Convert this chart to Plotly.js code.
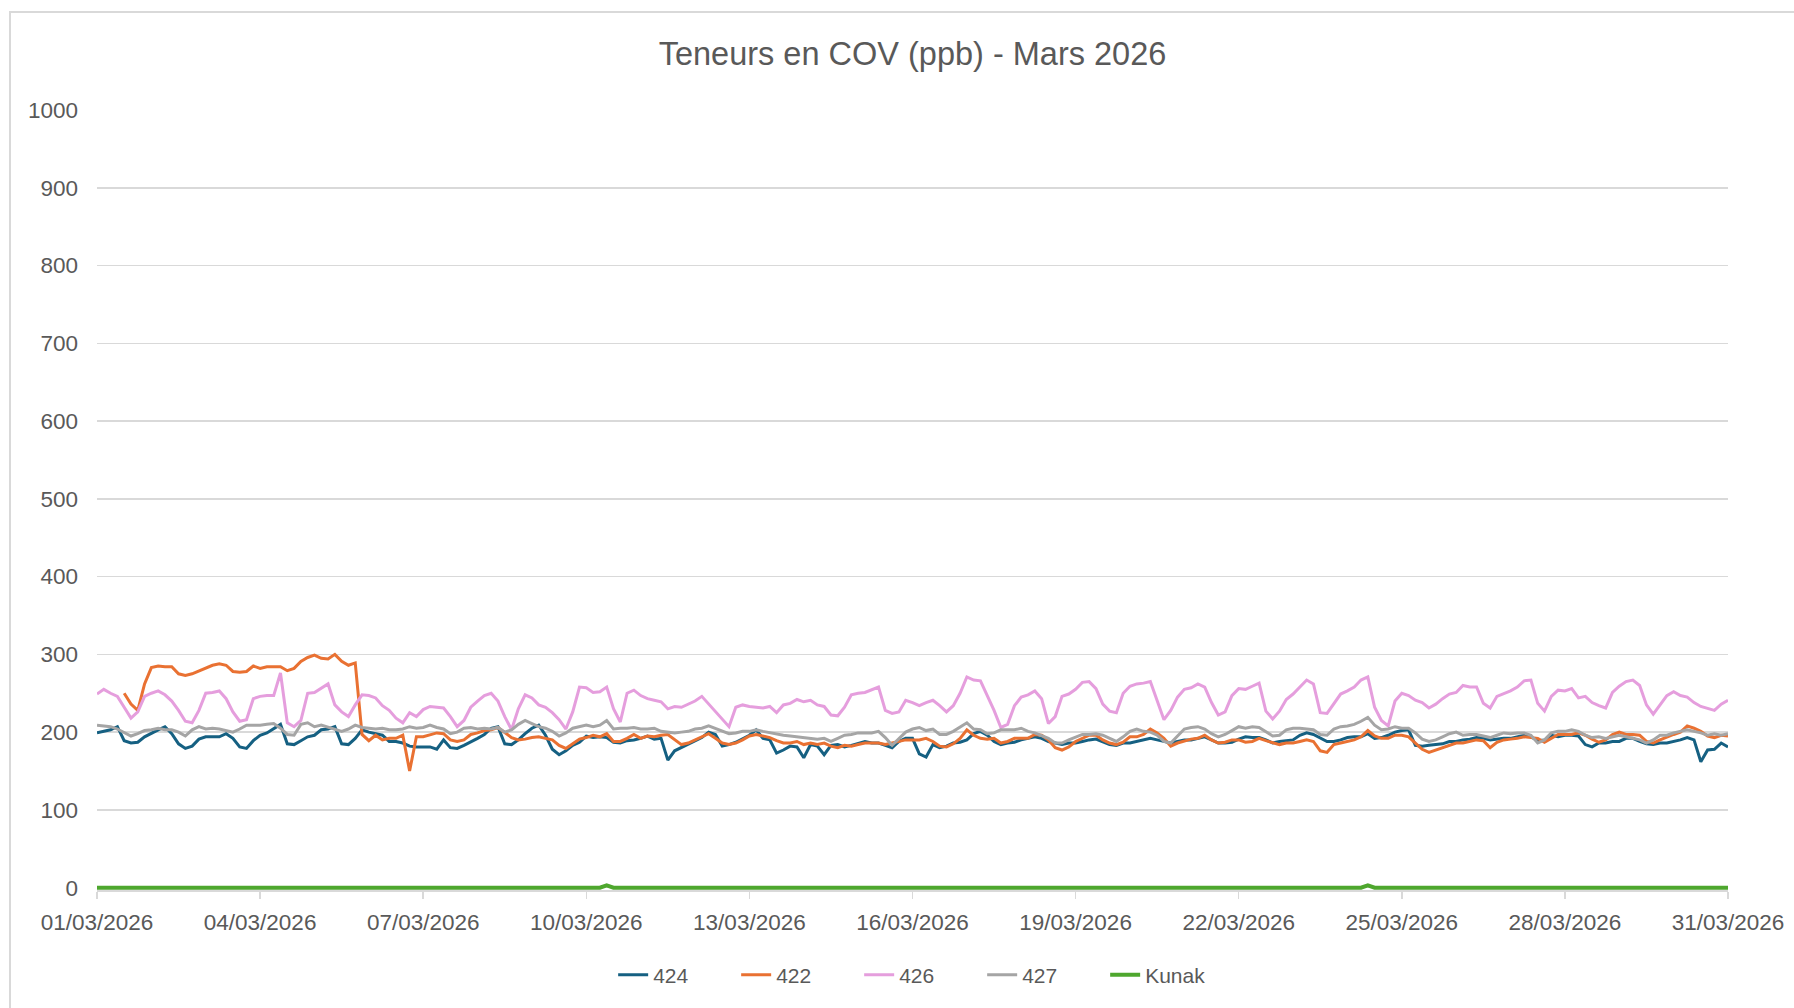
<!DOCTYPE html>
<html>
<head>
<meta charset="utf-8">
<script src="https://cdn.plot.ly/plotly-3.0.1.min.js"></script>
<style>
  html, body { margin: 0; padding: 0; background: #ffffff; }
  #wrap { position: relative; width: 1794px; height: 1008px; overflow: hidden; }
  #chart { position: absolute; left: 0; top: 0; width: 1794px; height: 1008px; }
  #frame { position: absolute; left: 9px; top: 11px; width: 1900px; height: 1100px; border: 2px solid #d9d9d9; box-sizing: border-box; pointer-events: none; }
</style>
</head>
<body>
<div id="wrap">
  <div id="chart"></div>
  <div id="frame"></div>
</div>
<script>
// Series sampled every 3 hours from 01/03/2026 00:00 to 31/03/2026 00:00 (241 points)
const seriesNames = ["424", "422", "426", "427", "Kunak"];
const startDate = "2026-03-01";
const stepHours = 3;

const s424 = [
199,201,203,207,189,186,187,194,199,203,207,198,185,179,182,191,194,194,194,198,192,181,179,189,196,199,204,210,185,184,189,194,196,203,204,207,185,184,192,203,200,
198,196,188,188,186,182,181,181,181,178,190,180,179,183,187,192,197,205,207,185,184,190,198,205,209,196,178,171,176,183,187,195,193,194,193,187,186,189,190,192,
195,191,192,164,176,180,185,189,193,200,197,182,184,187,191,196,203,192,190,173,177,182,181,167,184,182,171,183,184,181,183,186,188,186,186,183,180,188,192,192,
172,168,184,180,182,186,187,190,198,201,196,188,184,186,187,190,192,194,192,188,186,184,186,186,188,190,191,188,184,183,186,186,188,190,192,190,188,186,188,190,
190,192,194,190,186,186,187,191,194,193,193,190,186,188,189,190,196,199,197,192,188,188,190,193,194,194,198,192,193,196,200,202,203,183,182,183,184,185,188,188,
190,191,193,192,190,191,192,192,194,196,194,189,190,196,194,196,196,195,184,181,186,186,188,188,192,192,188,185,184,186,186,188,190,193,190,162,177,178,186,181
];

const s422 = [
null,null,null,null,250,236,228,262,283,285,284,284,275,273,275,279,282,286,288,286,278,277,278,285,282,284,284,284,279,282,291,296,299,295,294,300,291,286,289,197,189,
196,190,192,192,196,150,194,194,197,199,198,190,188,190,197,199,202,203,206,199,193,190,191,193,194,192,190,183,179,185,191,193,196,194,198,188,188,192,197,192,
195,194,196,197,191,184,186,190,193,198,192,186,184,186,190,195,197,195,193,189,186,186,188,184,186,184,186,182,180,183,182,184,186,186,186,184,186,188,190,190,
190,192,188,182,181,185,192,203,196,192,191,192,186,188,192,192,192,197,196,190,180,177,181,188,192,196,196,190,186,184,187,194,194,197,204,199,192,182,186,189,
191,192,196,190,186,187,190,190,187,188,192,189,186,184,186,186,188,190,188,176,174,184,186,188,190,194,202,195,192,192,196,196,194,186,178,174,177,180,182,186,
186,188,190,189,180,187,190,191,192,194,193,192,187,192,197,197,197,199,196,191,187,190,197,200,197,197,196,188,186,190,194,197,200,208,205,201,195,193,196,195
];

const s426 = [
249,255,250,246,232,218,226,246,250,253,248,240,228,214,212,228,250,251,253,243,226,214,216,243,246,247,247,276,212,207,215,250,251,256,262,235,226,220,235,248,247,
244,234,228,218,212,225,220,229,233,232,231,220,207,215,232,240,247,250,240,220,203,230,248,244,235,232,225,216,204,226,258,257,251,252,258,230,213,250,254,247,
243,241,239,230,233,232,236,240,246,236,226,217,207,232,235,233,232,231,233,225,235,237,242,239,241,235,233,222,221,232,248,250,251,254,258,228,224,226,241,238,
234,238,241,234,226,234,250,271,267,266,247,228,206,210,234,245,248,253,243,211,220,246,249,255,264,265,256,236,227,225,250,259,262,263,265,240,216,228,245,255,
257,262,258,238,222,226,247,256,255,259,263,227,217,227,242,249,258,267,262,225,224,237,249,253,258,267,271,232,215,208,240,250,247,241,238,231,236,243,249,251,
260,258,258,237,231,246,249,253,258,266,267,237,227,246,254,253,256,244,246,238,234,231,251,259,265,267,260,235,223,235,247,252,247,245,238,233,231,228,236,241
];

const s427 = [
209,208,207,204,199,195,198,202,203,205,203,203,200,195,203,207,204,205,204,202,200,204,209,209,209,210,211,205,197,196,210,212,207,209,206,203,201,204,209,206,205,
204,205,203,203,204,207,205,206,209,206,204,198,200,205,206,204,205,204,206,200,203,210,215,211,207,205,201,195,199,205,207,209,207,209,215,204,205,205,206,204,
204,205,201,200,199,200,201,204,205,208,205,202,198,199,201,201,203,201,199,198,196,195,194,193,192,191,192,188,192,196,197,199,199,199,201,193,183,192,200,204,
206,202,204,197,197,201,207,212,204,203,198,199,203,203,203,205,201,199,196,192,186,186,190,194,197,197,198,196,192,188,194,201,204,201,200,196,188,186,195,204,
206,207,204,198,194,197,202,207,205,207,206,200,195,196,203,205,205,204,203,197,196,204,207,208,210,214,219,209,203,204,207,205,205,199,191,188,190,194,198,200,
196,197,197,195,193,196,199,198,199,199,196,186,190,199,201,201,203,201,196,193,194,192,194,196,194,192,190,186,190,196,196,199,201,203,201,199,196,198,196,198
];

// Kunak: own sampling (days since 01/03/2026 00:00)
const kunakDays = [0, 9.25, 9.375, 9.5, 23.25, 23.375, 23.5, 30];
const kunakVals = [0, 0, 3, 0, 0, 3, 0, 0];

const yTickVals = [0,100,200,300,400,500,600,700,800,900,1000];
const colors = ["#156082", "#E97132", "#E59EDD", "#A5A5A5", "#4EA72E"];

function dateAt(hoursFromStart) {
  const base = Date.parse(startDate + "T00:00:00Z");
  const d = new Date(base + hoursFromStart * 3600 * 1000);
  return d.toISOString().slice(0, 19).replace("T", " ");
}

const timesMain = s424.map((_, k) => dateAt(k * stepHours));
const timesKunak = kunakDays.map(dd => dateAt(dd * 24));

const valueSets = [s424, s422, s426, s427];
const traces = valueSets.map((vals, i) => ({
  type: "scatter", mode: "lines", name: seriesNames[i],
  x: timesMain, y: vals,
  line: { color: colors[i], width: 3 },
  connectgaps: false
}));
traces.push({
  type: "scatter", mode: "lines", name: seriesNames[4],
  x: timesKunak, y: kunakVals,
  line: { color: colors[4], width: 4 },
  cliponaxis: false
});

const tickFont = { family: "Liberation Sans, Arial, sans-serif", size: 22.5, color: "#595959" };

const layout = {
  width: 1794, height: 1008,
  paper_bgcolor: "#ffffff", plot_bgcolor: "#ffffff",
  margin: { l: 97, r: 66, t: 110, b: 118 },
  showlegend: true,
  title: {
    text: "Teneurs en COV (ppb) - Mars 2026",
    font: { family: "Liberation Sans, Arial, sans-serif", size: 32.5, color: "#595959" },
    x: 0.5, xref: "paper", xanchor: "center",
    y: 1 - 54 / 1008, yref: "container", yanchor: "middle"
  },
  xaxis: {
    type: "date",
    range: [dateAt(0), dateAt(30 * 24)],
    tick0: startDate, dtick: 3 * 86400000,
    tickformat: "%d/%m/%Y",
    ticks: "outside", ticklen: 7, tickcolor: "#d9d9d9", tickwidth: 1.5,
    showgrid: false, zeroline: false,
    showline: true, linecolor: "#d9d9d9", linewidth: 1.5,
    tickfont: tickFont,
    ticklabelstandoff: 4
  },
  yaxis: {
    range: [-3, 1000],
    tickvals: yTickVals,
    showgrid: true, gridcolor: "#d9d9d9", gridwidth: 1.5,
    zeroline: false, showline: false, ticks: "",
    tickfont: tickFont,
    ticklabelstandoff: 18
  },
  legend: {
    orientation: "h",
    x: 0.505, xanchor: "center", xref: "paper",
    y: 1 - 975 / 1008, yanchor: "middle", yref: "container",
    font: { family: "Liberation Sans, Arial, sans-serif", size: 21, color: "#595959" },
    entrywidth: 78, entrywidthmode: "pixels",
    itemwidth: 30,
    traceorder: "normal"
  },
  hovermode: false
};

Plotly.newPlot("chart", traces, layout, { staticPlot: true, displayModeBar: false });
</script>
</body>
</html>
